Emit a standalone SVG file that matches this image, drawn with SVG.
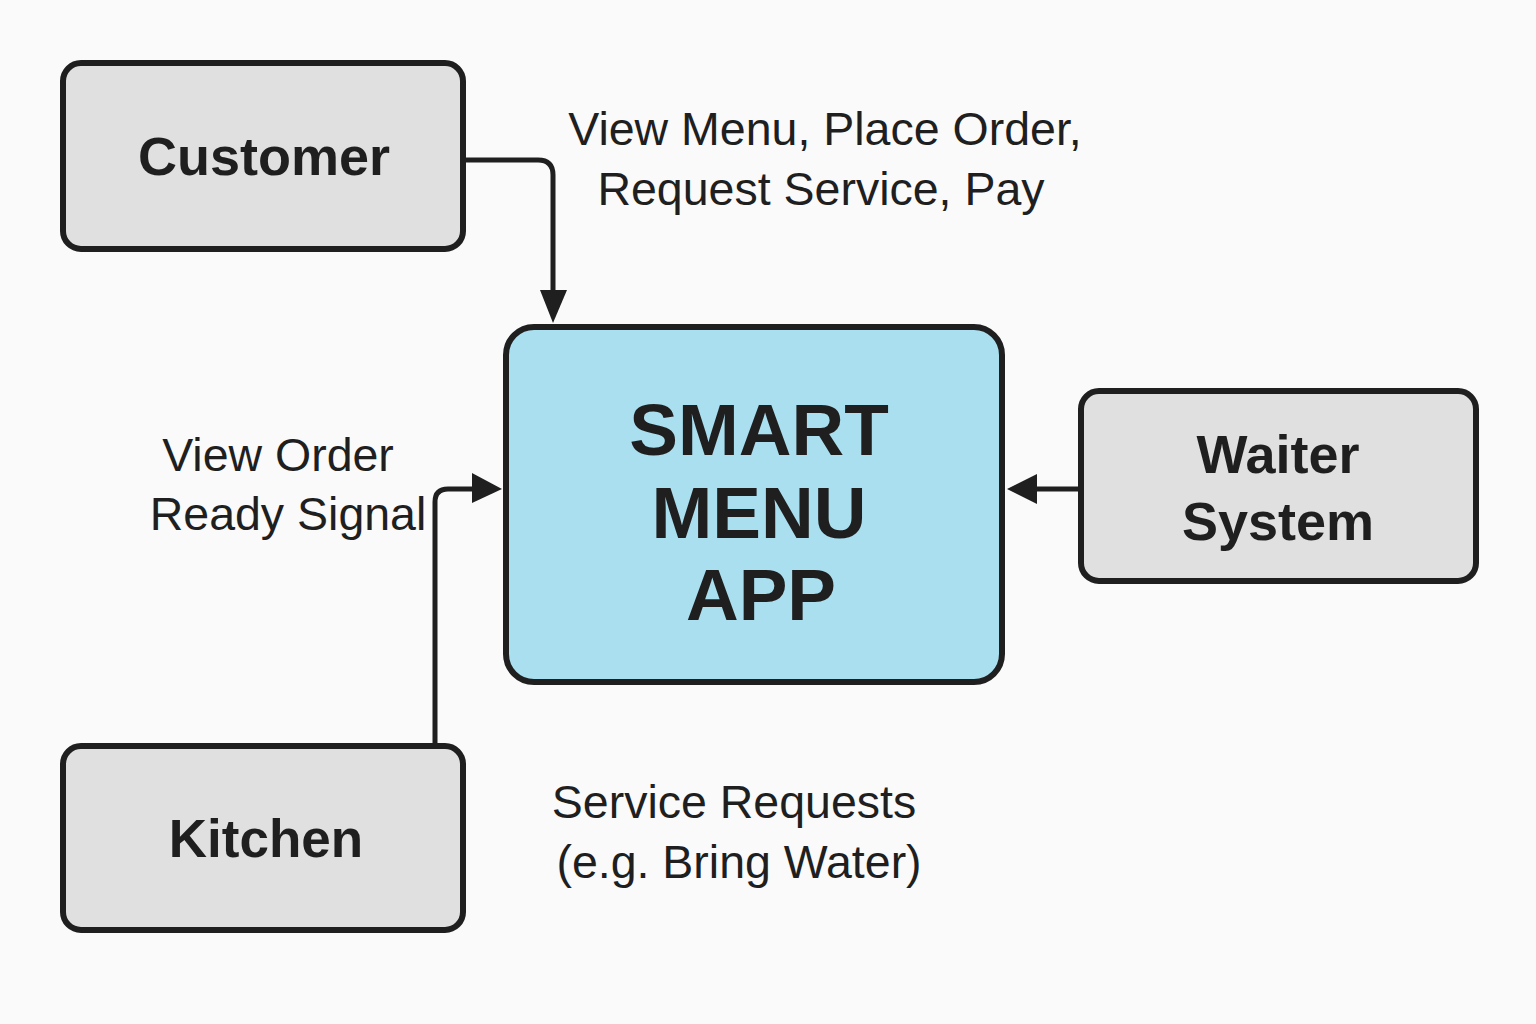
<svg xmlns="http://www.w3.org/2000/svg" width="1536" height="1024" viewBox="0 0 1536 1024">
<style>
.box{fill:#e0e0e0;stroke:#1f1f1f;stroke-width:6}
.app{fill:#aadff0;stroke:#1f1f1f;stroke-width:6}
.t{font-family:"Liberation Sans",Arial,sans-serif;font-weight:bold;fill:#1f1f1f;text-anchor:middle}
.l{font-family:"Liberation Sans",Arial,sans-serif;fill:#1f1f1f;text-anchor:middle;font-size:46.5px}
.c{fill:none;stroke:#1f1f1f;stroke-width:5}
.ah{fill:#1f1f1f}
</style>
<rect width="1536" height="1024" fill="#fafafa"/>
<g id="connectors">
<path class="c" d="M464 160 H538 Q553 160 553 175 V292"/>
<polygon class="ah" points="540,290 567,290 553,323"/>
<path class="c" d="M435 745 V502 Q435 489 448 489 H474"/>
<polygon class="ah" points="472,473 472,503 502,489"/>
<path class="c" d="M1080 489 H1035"/>
<polygon class="ah" points="1037,474 1037,504 1007,489"/>
</g>
<g id="customer">
<rect class="box" x="63" y="63" width="400" height="186" rx="18"/>
<text class="t" x="264" y="175" font-size="54">Customer</text>
</g>
<g id="kitchen">
<rect class="box" x="63" y="746" width="400" height="184" rx="18"/>
<text class="t" x="266" y="857" font-size="53">Kitchen</text>
</g>
<g id="smart-menu-app">
<rect class="app" x="506" y="327" width="496" height="355" rx="28"/>
<text class="t" x="759" y="455" font-size="73">SMART</text>
<text class="t" x="759" y="538" font-size="73">MENU</text>
<text class="t" x="761" y="620" font-size="73">APP</text>
</g>
<g id="waiter-system">
<rect class="box" x="1081" y="391" width="395" height="190" rx="18"/>
<text class="t" x="1278" y="473" font-size="54">Waiter</text>
<text class="t" x="1278" y="540" font-size="54">System</text>
</g>
<g id="labels">
<text class="l" x="825" y="145">View Menu, Place Order,</text>
<text class="l" x="821" y="205">Request Service, Pay</text>
<text class="l" x="278" y="471">View Order</text>
<text class="l" x="288" y="530">Ready Signal</text>
<text class="l" x="734" y="818">Service Requests</text>
<text class="l" x="739" y="878">(e.g. Bring Water)</text>
</g>
</svg>
